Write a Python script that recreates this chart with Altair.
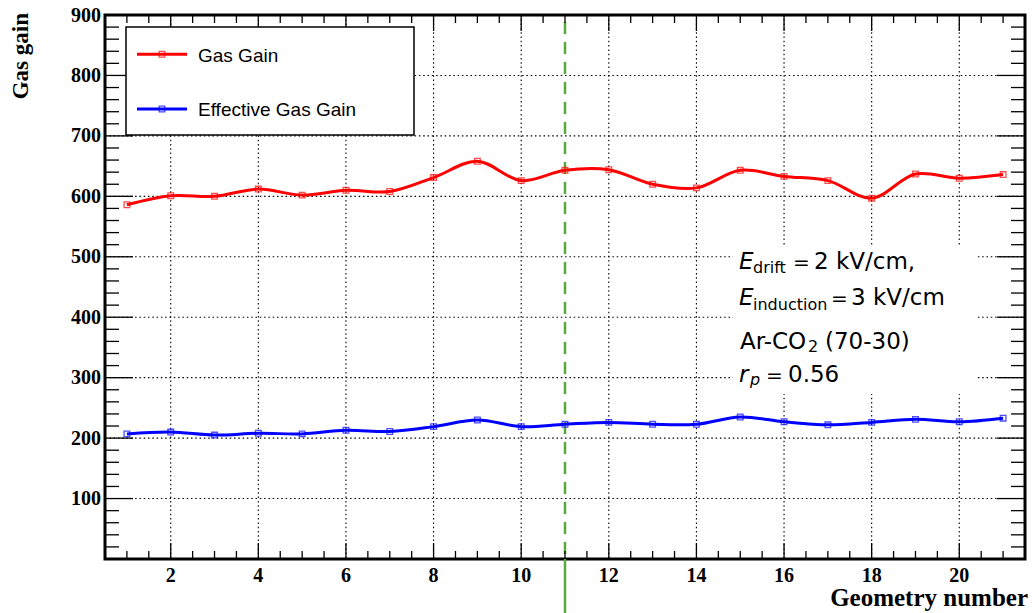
import altair as alt
import pandas as pd

# ---------------- data ----------------
geometry = list(range(1, 22))
gas_gain = [586, 601, 600, 612, 602, 610, 608, 631, 658, 626, 643,
            644, 620, 614, 643, 633, 626, 597, 637, 630, 636]
eff_gain = [207, 210, 205, 208, 207, 213, 211, 219, 230, 219, 223,
            226, 223, 223, 235, 227, 222, 226, 231, 227, 233]
series_names = ["Gas Gain", "Effective Gas Gain"]
series_colors = ["#ff0000", "#0000ff"]

x_major = [2, 4, 6, 8, 10, 12, 14, 16, 18, 20]
x_minor = [v / 2 for v in range(2, 43) if v % 4 != 0]
y_labels = [100, 200, 300, 400, 500, 600, 700, 800, 900]
y_major = [100, 200, 300, 400, 500, 600, 700, 800]
y_minor = [v for v in range(20, 900, 20) if v % 100 != 0]
marker_line_x = [11]

W, H = 920, 544
xs = alt.Scale(domain=[0.5, 21.5], nice=False, zero=False)
ys = alt.Scale(domain=[0, 900], nice=False, zero=False)

df = pd.DataFrame({
    "geometry": geometry * 2,
    "gain": gas_gain + eff_gain,
    "series": [series_names[0]] * len(geometry) + [series_names[1]] * len(geometry),
})
color = alt.Color("series:N", scale=alt.Scale(domain=series_names, range=series_colors), legend=None)
dummy = pd.DataFrame({"a": [0]})

# ---------------- grid ----------------
vgrid = alt.Chart(pd.DataFrame({"x": x_major})).mark_rule(
    color="black", strokeWidth=1.1, strokeDash=[1.5, 2.8]
).encode(x=alt.X("x:Q", scale=xs, axis=None), y=alt.value(0), y2=alt.value(H))
hgrid = alt.Chart(pd.DataFrame({"y": y_major})).mark_rule(
    color="black", strokeWidth=1.1, strokeDash=[1.5, 2.8]
).encode(y=alt.Y("y:Q", scale=ys, axis=None), x=alt.value(0), x2=alt.value(W))

# ---------------- ticks (inside, all four sides) ----------------
def xticks(vals, length):
    d = pd.DataFrame({"x": vals})
    b = alt.Chart(d).mark_rule(color="black", strokeWidth=1.3).encode(
        x=alt.X("x:Q", scale=xs, axis=None), y=alt.value(H), y2=alt.value(H - length))
    t = alt.Chart(d).mark_rule(color="black", strokeWidth=1.3).encode(
        x=alt.X("x:Q", scale=xs, axis=None), y=alt.value(0), y2=alt.value(length))
    return [b, t]

def yticks(vals, length):
    d = pd.DataFrame({"y": vals})
    l = alt.Chart(d).mark_rule(color="black", strokeWidth=1.3).encode(
        y=alt.Y("y:Q", scale=ys, axis=None), x=alt.value(0), x2=alt.value(length))
    r = alt.Chart(d).mark_rule(color="black", strokeWidth=1.3).encode(
        y=alt.Y("y:Q", scale=ys, axis=None), x=alt.value(W), x2=alt.value(W - length))
    return [l, r]

ticks = xticks(x_minor, 8) + xticks(x_major, 16) + yticks(y_minor, 14) + yticks(y_major, 28)

# ---------------- tick labels ----------------
xlab = alt.Chart(pd.DataFrame({"x": x_major})).mark_text(
    align="center", baseline="alphabetic", font="Liberation Serif", fontWeight="bold",
    fontSize=20, color="black"
).encode(x=alt.X("x:Q", scale=xs, axis=None), y=alt.value(H + 23), text=alt.Text("x:Q"))
ylab = alt.Chart(pd.DataFrame({"y": y_labels})).mark_text(
    align="right", baseline="alphabetic", dy=6.5, font="Liberation Serif", fontWeight="bold",
    fontSize=20, color="black"
).encode(y=alt.Y("y:Q", scale=ys, axis=None), x=alt.value(-4), text=alt.Text("y:Q"))

# ---------------- annotation box ----------------
ann_box = alt.Chart(dummy).mark_rect(fill="white", stroke=None).encode(
    x=alt.value(628), x2=alt.value(872), y=alt.value(231), y2=alt.value(379))

# ---------------- green vertical line ----------------
gdf = pd.DataFrame({"x": marker_line_x})
green_dash = alt.Chart(gdf).mark_rule(color="#58ab3a", strokeWidth=2.5, strokeDash=[12, 8]).encode(
    x=alt.X("x:Q", scale=xs, axis=None), y=alt.value(7), y2=alt.value(H))
green_solid = alt.Chart(gdf).mark_rule(color="#58ab3a", strokeWidth=2.5).encode(
    x=alt.X("x:Q", scale=xs, axis=None), y=alt.value(H), y2=alt.value(H + 60))

# ---------------- data series ----------------
lines = alt.Chart(df).mark_line(interpolate="catmull-rom", strokeWidth=3).encode(
    x=alt.X("geometry:Q", scale=xs, axis=None),
    y=alt.Y("gain:Q", scale=ys, axis=None),
    color=color,
)
points = alt.Chart(df).mark_point(shape="square", filled=False, size=32, strokeWidth=1.3).encode(
    x=alt.X("geometry:Q", scale=xs, axis=None),
    y=alt.Y("gain:Q", scale=ys, axis=None),
    color=color,
)

# ---------------- legend (manual, ROOT style) ----------------
legend_layers = [alt.Chart(dummy).mark_rect(fill="white", stroke="black", strokeWidth=1.5).encode(
    x=alt.value(21), x2=alt.value(309), y=alt.value(12), y2=alt.value(120))]
for name, col, ly in zip(series_names, series_colors, [39.3, 94]):
    legend_layers.append(alt.Chart(dummy).mark_rule(color=col, strokeWidth=3).encode(
        x=alt.value(32), x2=alt.value(82), y=alt.value(ly)))
    legend_layers.append(alt.Chart(dummy).mark_point(shape="square", filled=False, size=32,
                                                     strokeWidth=1.3, color=col).encode(
        x=alt.value(57), y=alt.value(ly)))
    legend_layers.append(alt.Chart(dummy).mark_text(
        text=name, align="left", baseline="alphabetic", font="Liberation Sans",
        fontSize=19, color="black").encode(x=alt.value(93), y=alt.value(ly + 7.4)))

# ---------------- annotation text ----------------
def txt(s, x, y, size=23, italic=False, font="DejaVu Sans"):
    kw = dict(text=s, align="left", baseline="alphabetic", font=font, fontSize=size, color="black")
    if italic:
        kw["fontStyle"] = "italic"
    return alt.Chart(dummy).mark_text(**kw).encode(x=alt.value(x), y=alt.value(y))

ann = [
    txt("E", 634, 254, italic=True), txt("drift", 648, 258, size=16), txt("=", 688, 254, size=20),
    txt("2 kV/cm,", 709, 254),
    txt("E", 634, 290, italic=True), txt("induction", 648, 295, size=16), txt("=", 726, 290, size=20),
    txt("3 kV/cm", 746, 290),
    txt("Ar-CO", 635, 334), txt("2", 703, 337, size=16), txt("(70-30)", 720, 334),
    txt("r", 634, 367, italic=True), txt("p", 645, 370, size=16, italic=True),
    txt("=", 661, 367, size=20),
    txt("0.56", 683, 367),
]

# ---------------- axis titles ----------------
ytitle = alt.Chart(dummy).mark_text(
    text="Gas gain", angle=270, align="right", baseline="alphabetic",
    font="Liberation Serif", fontWeight="bold", fontSize=23, color="black"
).encode(x=alt.value(-77), y=alt.value(-2))
xtitle = alt.Chart(dummy).mark_text(
    text="Geometry number", align="right", baseline="alphabetic",
    font="Liberation Serif", fontWeight="bold", fontSize=25, color="black"
).encode(x=alt.value(923), y=alt.value(H + 47))

chart = alt.layer(
    vgrid, hgrid, ann_box, green_dash, green_solid, *ticks, xlab, ylab, lines, points,
    *legend_layers, *ann, ytitle, xtitle
).properties(
    width=W, height=H,
    autosize=alt.AutoSizeParams(type="none"),
    padding={"left": 105, "top": 15, "right": 7, "bottom": 54},
    background="white",
).configure_view(stroke="black", strokeWidth=3)

chart.save("out.html", embed_options={"renderer": "svg", "actions": False})
